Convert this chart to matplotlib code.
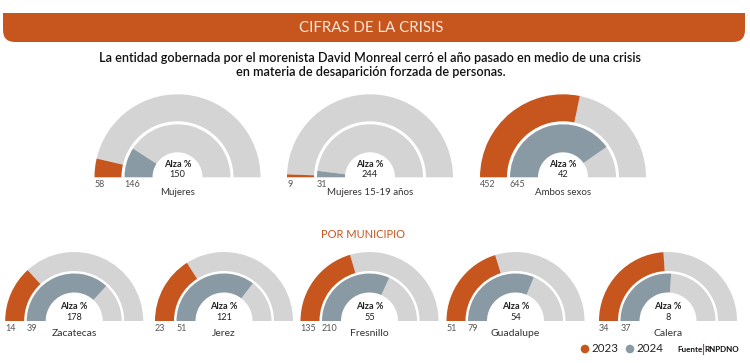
import matplotlib.pyplot as plt
from matplotlib.patches import Wedge, FancyBboxPatch, Rectangle, Circle

plt.rcParams['font.family'] = ['Lato', 'DejaVu Sans']

# datos (RNPDNO)
grupos = ["Mujeres", "Mujeres 15-19 años", "Ambos sexos"]
grupos_2023 = [58, 9, 452]
grupos_2024 = [146, 31, 645]
grupos_alza = [150, 244, 42]
grupos_escala = [800, 800, 800]

municipios = ["Zacatecas", "Jerez", "Fresnillo", "Guadalupe", "Calera"]
mun_2023 = [14, 23, 135, 51, 34]
mun_2024 = [39, 51, 210, 79, 37]
mun_alza = [178, 121, 55, 54, 8]
mun_escala = [53, 72, 330, 126, 71]

NARANJA = "#C7561E"
AZUL = "#8A9AA4"
GRIS = "#D4D4D4"
H = 363

fig = plt.figure(figsize=(7.5, 3.63), dpi=100)
ax = fig.add_axes([0, 0, 1, 1])
ax.set_xlim(0, 750)
ax.set_ylim(0, H)
ax.set_aspect("equal")
ax.axis("off")


def y(v):
    # coordenadas de imagen (desde arriba) a coordenadas del eje
    return H - v


def medidor(cx, base, anillo_ext, anillo_int, v23, v24, escala, alza, nombre,
            fs_val, fs_alza, fs_nombre, dy):
    for (r0, r1), v, color in [(anillo_ext, v23, NARANJA), (anillo_int, v24, AZUL)]:
        ang = 180 - 180 * v / escala
        ax.add_patch(Wedge((cx, y(base)), r1, 0, ang, width=r1 - r0, color=GRIS, lw=0))
        ax.add_patch(Wedge((cx, y(base)), r1, ang, 180, width=r1 - r0, color=color, lw=0))
    ax.text(cx - anillo_ext[1], y(base + dy[0]), str(v23), fontsize=fs_val, color="#555555",
            ha="left", va="center")
    ax.text(cx - anillo_int[1], y(base + dy[0]), str(v24), fontsize=fs_val, color="#555555",
            ha="left", va="center")
    ax.text(cx, y(base + dy[1]), "Alza %", fontsize=fs_alza, color="#222222",
            ha="center", va="center", fontweight="bold")
    ax.text(cx, y(base + dy[2]), str(alza), fontsize=fs_alza, color="#222222",
            ha="center", va="center")
    ax.text(cx, y(base + dy[3]), nombre, fontsize=fs_nombre, color="#333333",
            ha="center", va="center")


# encabezado
ax.add_patch(FancyBboxPatch((3 + 12, y(42) + 12), 742 - 24, 29 - 24,
                            boxstyle="round,pad=12", color=NARANJA, lw=0))
ax.add_patch(Rectangle((3, y(28)), 742, 15, color=NARANJA, lw=0))
ax.text(371, y(27.5), "CIFRAS DE LA CRISIS", fontsize=10.8, color="#FBE6D8",
        ha="center", va="center")
ax.text(370, y(58), "La entidad gobernada por el morenista David Monreal cerró el año pasado en medio de una crisis",
        fontsize=9.1, color="#111111", ha="center", va="center", fontweight="semibold")
ax.text(371, y(72.5), "en materia de desaparición forzada de personas.",
        fontsize=9.1, color="#111111", ha="center", va="center", fontweight="semibold")

# fila superior
for cx, n, a, b, alza, esc in zip([177.5, 370, 563], grupos, grupos_2023, grupos_2024,
                                  grupos_alza, grupos_escala):
    medidor(cx, 177.3, (56, 83), (25, 53), a, b, esc, alza, n,
            6.5, 6.6, 7.0, (7, -13, -3, 15))

ax.text(363, y(235), "POR MUNICIPIO", fontsize=8, color=NARANJA, ha="center", va="center")

# fila inferior
for cx, n, a, b, alza, esc in zip([74.2, 224, 369.5, 515.5, 668], municipios, mun_2023,
                                  mun_2024, mun_alza, mun_escala):
    medidor(cx, 321, (50, 69), (28.5, 47.5), a, b, esc, alza, n,
            6.5, 6.6, 7.5, (7.5, -14.3, -3.5, 12.8))

# leyenda
ax.add_patch(Circle((585, y(349)), 4.3, color=NARANJA, lw=0))
ax.text(591, y(349), "2023", fontsize=8.3, color="#222222", ha="left", va="center")
ax.add_patch(Circle((630, y(349)), 4.3, color=AZUL, lw=0))
ax.text(636, y(349), "2024", fontsize=8.3, color="#222222", ha="left", va="center")
ax.text(677, y(349), "Fuente", fontsize=5.8, color="#111111", ha="left", va="center",
        fontweight="bold")
ax.plot([703, 703], [y(344), y(354)], color="#D23A2A", lw=0.8)
ax.text(704.3, y(349), "RNPDNO", fontsize=5.8, color="#111111", ha="left", va="center",
        fontweight="bold")

fig.savefig("out.png", dpi=100)
